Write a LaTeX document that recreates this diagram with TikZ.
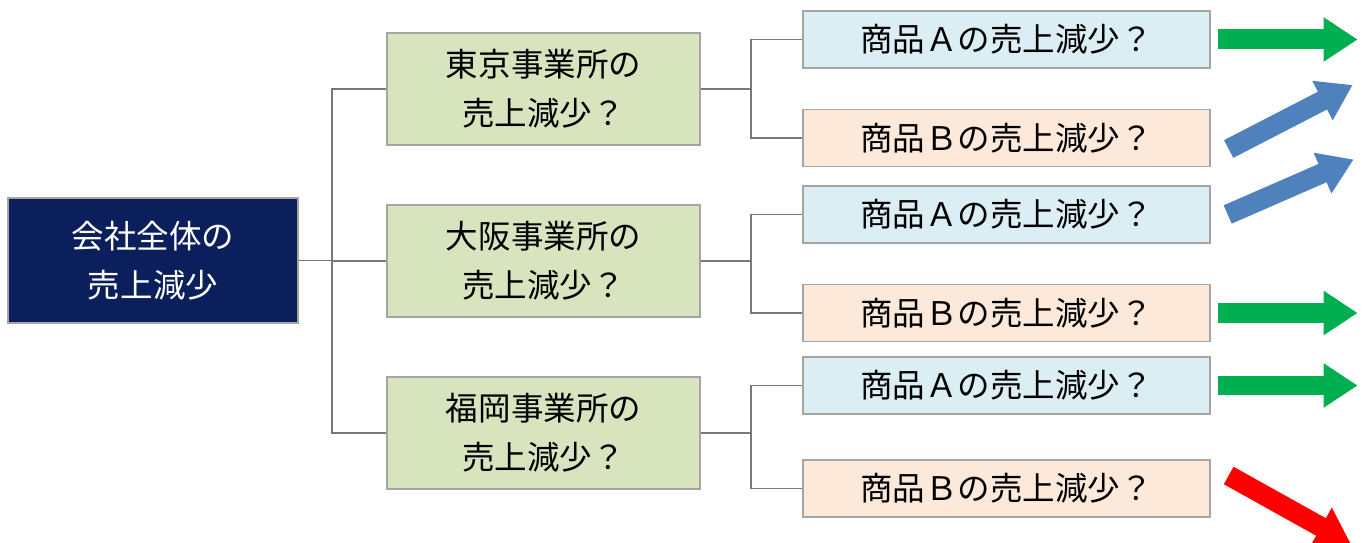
\documentclass[tikz,border=0pt]{standalone}
\usepackage{fontspec}
\setmainfont{Noto Sans CJK JP}
\usetikzlibrary{arrows.meta}
\usetikzlibrary{calc}
\definecolor{rootblue}{RGB}{10,31,92}
\definecolor{unitgreen}{RGB}{215,228,189}
\definecolor{itemblue}{RGB}{219,238,244}
\definecolor{itempeach}{RGB}{253,233,217}
\definecolor{boxgray}{RGB}{165,165,165}
\definecolor{linkgray}{RGB}{120,120,120}
\definecolor{upgreen}{RGB}{0,176,80}
\definecolor{upblue}{RGB}{79,129,189}
\tikzset{
	box/.style={draw=boxgray, line width=0.8pt, align=center, inner sep=0pt, font=\fontsize{18.5}{28}\selectfont},
	rootbox/.style={box, fill=rootblue, text=white, minimum width=5.8cm, minimum height=2.5cm},
	unitbox/.style={box, fill=unitgreen, minimum width=6.26cm, minimum height=2.24cm},
	itembox/.style={box, minimum width=8.14cm, minimum height=1.14cm},
	link/.style={draw=linkgray, line width=1.1pt},
	trend/.style={line width=0.4cm, -{Triangle[length=0.68cm,width=0.84cm]}}
}

\begin{document}
\begin{tikzpicture}[x=0.02cm,y=-0.02cm]
	\useasboundingbox (0,0) rectangle (1365,543);
	\node[rootbox] (root) at (153,260.5) {会社全体の\\売上減少};
	\foreach \n/\y/\city in {tk/89/東京,os/261/大阪,fk/433/福岡} {
		\node[unitbox] (\n) at (543.5,\y) {\city 事業所の\\売上減少？};
		\draw[link] (root.east) -- ++(33,0) |- (\n.west);
	};
	\foreach \n/\m/\y/\col/\lbl in {tkA/tk/39.5/itemblue/Ａ,tkB/tk/138/itempeach/Ｂ,osA/os/214.5/itemblue/Ａ,osB/os/313/itempeach/Ｂ,fkA/fk/385.5/itemblue/Ａ,fkB/fk/488.5/itempeach/Ｂ} {
		\node[itembox, fill=\col] (\n) at (1006.5,\y) {商品\lbl の売上減少？};
		\draw[link] (\m.east) -- ++(50,0) |- (\n.west);
	};
	% trend arrows
	\draw[trend, upgreen] ($(tkA.east)+(7,0)$) -- ++(140,0);
	\draw[trend, upblue] ($(tkB.east)+(18,11)$) -- ++(124,-64);
	\draw[trend, upblue] ($(osA.east)+(17,0)$) -- ++(126,-55);
	\draw[trend, upgreen] ($(osB.east)+(7,0)$) -- ++(140,0);
	\draw[trend, upgreen] ($(fkA.east)+(7,0)$) -- ++(140,0);
	\draw[trend, red] ($(fkB.east)+(18,-13)$) -- ++(122,68);
\end{tikzpicture}
\end{document}
